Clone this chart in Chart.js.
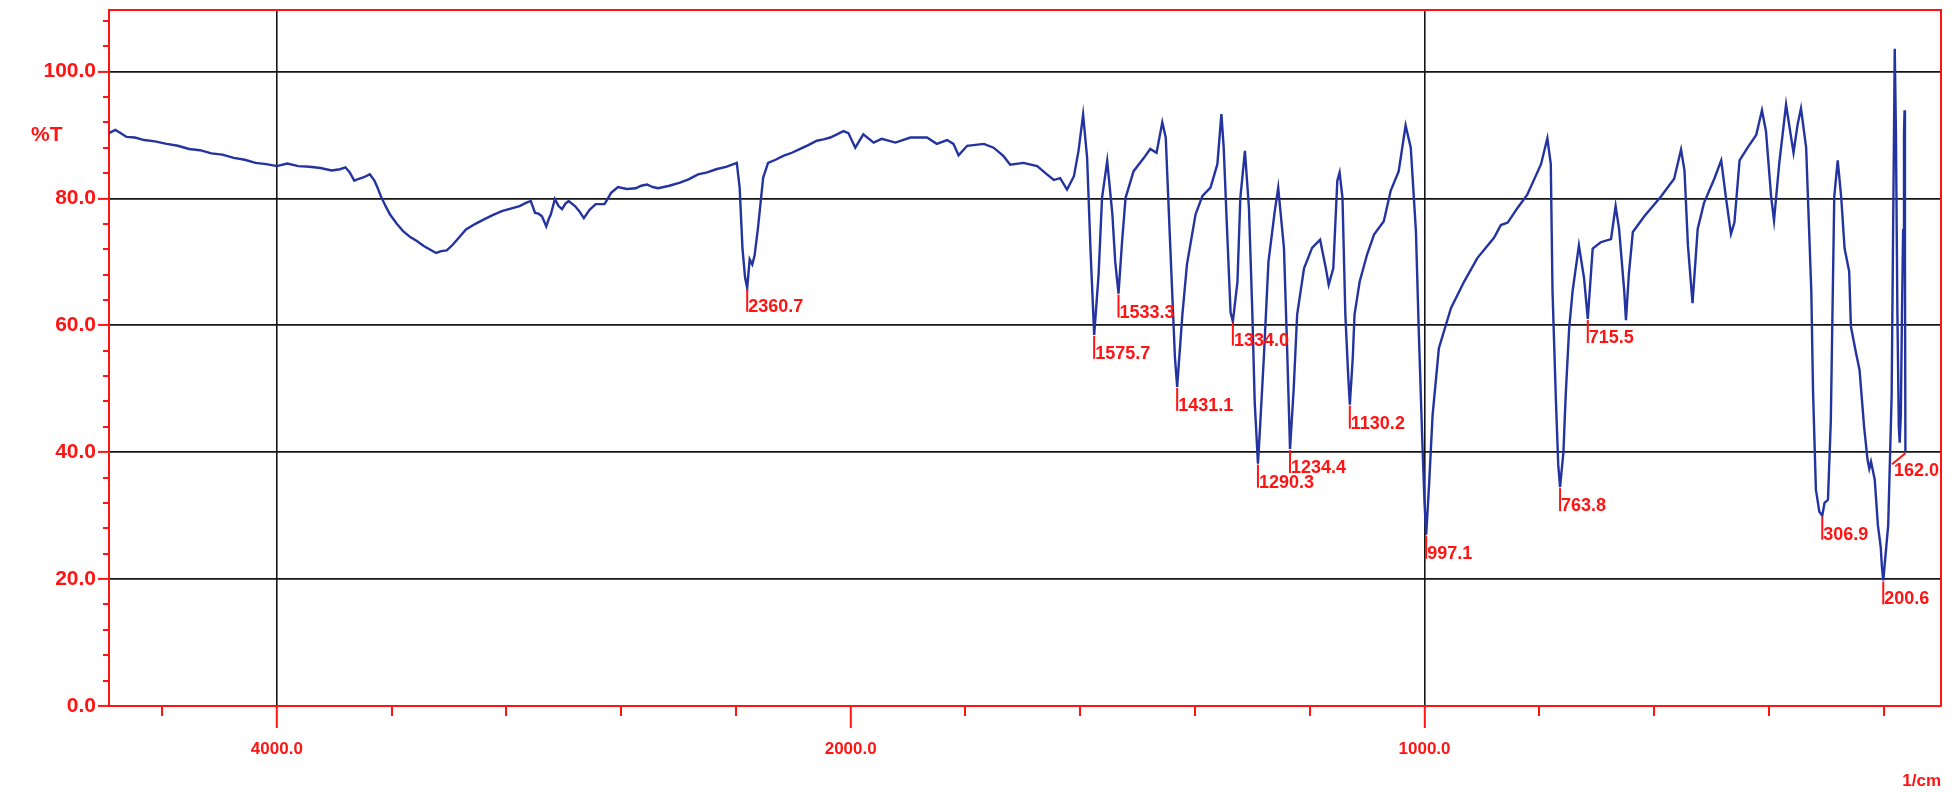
<!DOCTYPE html>
<html>
<head>
<meta charset="utf-8">
<script src="https://cdn.jsdelivr.net/npm/chart.js@4.4.1/dist/chart.umd.min.js"></script>
<style>
  html, body { margin: 0; padding: 0; background: #ffffff; }
  #wrap { width: 1958px; height: 792px; position: relative; background: #ffffff; }
  canvas { display: block; }
</style>
</head>
<body>
<div id="wrap"><canvas id="spectrum" width="1958" height="792"></canvas></div>
<script>
// IR transmittance spectrum (%T against wavenumber in 1/cm).
// Below 2000 1/cm the wavenumber axis is drawn at twice the scale of the upper part.

const wavenumbers = [
  4585, 4563, 4545, 4524, 4495, 4462, 4425, 4384, 4345, 4306, 4268, 4228, 4190, 4150, 4112, 4074, 4037, 4000,
  3964, 3925, 3886, 3848, 3809, 3780, 3761, 3746, 3730, 3714, 3699, 3676, 3660, 3650, 3638, 3620, 3606, 3582,
  3559, 3535, 3512, 3488, 3465, 3445, 3427, 3408, 3387, 3362, 3341, 3308, 3278, 3246, 3216, 3185, 3154, 3132,
  3115, 3100, 3088, 3076, 3061, 3052, 3045, 3031, 3018, 3006, 2994, 2983, 2961, 2946, 2930, 2910, 2889, 2858,
  2846, 2835, 2811, 2780, 2749, 2730, 2710, 2690, 2671, 2632, 2595, 2565, 2532, 2500, 2469, 2432, 2397, 2387,
  2377, 2368, 2360.7, 2352, 2343, 2335, 2323, 2305, 2288, 2262, 2235, 2205, 2176, 2148, 2118, 2095, 2071, 2048,
  2025, 2008,
  1992, 1978, 1960, 1946, 1922, 1896, 1867, 1850, 1832, 1821, 1812, 1797, 1768, 1751, 1734, 1722, 1699, 1675,
  1658, 1646, 1635, 1623, 1611, 1603, 1595, 1588, 1582, 1575.7, 1568, 1562, 1553, 1544, 1539, 1533.3, 1527, 1521,
  1507, 1489, 1478, 1467, 1457, 1451, 1443, 1435, 1431.1, 1422, 1414, 1399, 1387, 1373, 1361, 1354, 1350, 1344,
  1338, 1334.0, 1326, 1321, 1313, 1306, 1300, 1296, 1290.3, 1286, 1280, 1272, 1261, 1255, 1245, 1240, 1234.4, 1228,
  1222, 1210, 1196, 1182, 1172, 1167, 1159, 1152, 1148, 1143, 1138, 1133, 1130.2, 1125, 1122, 1113, 1100, 1088,
  1071, 1059, 1045, 1033, 1024, 1015, 1010, 1004, 1000, 997.1, 992, 986, 975, 954, 931, 908, 879, 867,
  855, 838, 821, 797, 786, 780, 777, 771, 767, 763.8, 758, 754, 748, 742, 731, 722, 715.5, 707,
  693, 675, 667, 661, 652, 649, 644, 637, 617, 588, 565, 553, 547, 541, 533, 524, 513, 495,
  483, 475, 466, 460, 451, 437, 422, 412, 405, 396, 391, 382, 370, 361, 357, 350, 344, 335,
  326, 323, 318, 312, 306.9, 303, 297, 292, 286, 280, 274, 268, 260, 257, 248, 242, 234, 228,
  225, 222, 215.5, 210, 205, 203, 200.6, 192, 186, 180.6, 178.5, 176, 173.5, 172, 170, 168, 166,
  164.5, 163.5, 162.8, 162.0
];

const transmittance = [
  90.3, 90.8, 90.3, 89.7, 89.6, 89.2, 89.0, 88.6, 88.3, 87.8, 87.6, 87.1, 86.9, 86.4, 86.1, 85.6, 85.4, 85.1,
  85.5, 85.1, 85.0, 84.8, 84.4, 84.6, 84.9, 84.1, 82.8, 83.1, 83.3, 83.8, 82.8, 81.8, 80.4, 78.7, 77.5, 76.0,
  74.8, 73.9, 73.3, 72.5, 71.9, 71.4, 71.7, 71.8, 72.7, 74.0, 75.1, 76.0, 76.7, 77.4, 78.0, 78.4, 78.8, 79.3,
  79.6, 77.7, 77.6, 77.2, 75.6, 76.8, 77.5, 79.9, 78.8, 78.3, 79.2, 79.6, 78.8, 78.0, 76.9, 78.2, 79.1, 79.1,
  80.0, 80.9, 81.8, 81.5, 81.6, 82.0, 82.2, 81.8, 81.6, 82.0, 82.5, 83.0, 83.8, 84.1, 84.6, 85.0, 85.6, 81.7,
  72.0, 67.5, 65.9, 70.4, 69.6, 71.0, 75.4, 83.3, 85.6, 86.1, 86.7, 87.2, 87.8, 88.4, 89.1, 89.3, 89.6, 90.1,
  90.6, 90.3,
  88.0, 90.1, 88.8, 89.4, 88.8, 89.6, 89.6, 88.6, 89.2, 88.6, 86.8, 88.3, 88.6, 88.0, 86.7, 85.3, 85.6, 85.1,
  83.8, 82.9, 83.2, 81.4, 83.5, 87.5, 93.2, 86.4, 71.7, 58.5, 68.0, 80.1, 85.9, 77.5, 70.0, 65.0, 73.3, 80.1,
  84.3, 86.4, 87.8, 87.2, 92.0, 89.6, 72.2, 55.0, 50.3, 61.7, 69.6, 77.5, 80.4, 81.7, 85.4, 93.3, 88.0, 74.8,
  62.0, 60.6, 66.9, 80.1, 87.5, 78.5, 61.7, 48.0, 38.2, 45.0, 55.0, 70.0, 78.0, 81.7, 72.2, 58.0, 40.5, 50.0,
  61.7, 69.0, 72.2, 73.5, 69.0, 66.4, 69.0, 82.8, 84.1, 80.1, 61.7, 52.0, 47.5, 55.0, 61.7, 66.9, 71.2, 74.3,
  76.4, 81.2, 84.3, 91.5, 88.0, 74.8, 59.0, 42.0, 32.0, 27.0, 35.0, 45.8, 56.4, 62.7, 66.9, 70.6, 73.8, 75.8,
  76.2, 78.5, 80.6, 85.4, 89.5, 85.4, 65.4, 48.0, 38.0, 34.5, 40.0, 49.0, 59.5, 65.4, 72.6, 67.4, 61.0, 72.1,
  73.1, 73.6, 78.8, 75.2, 65.4, 60.8, 68.0, 74.7, 77.2, 80.3, 83.1, 87.7, 84.4, 72.6, 63.5, 75.2, 79.3, 83.1,
  86.0, 80.3, 74.4, 76.2, 86.0, 88.0, 90.0, 93.9, 90.6, 80.3, 76.5, 85.4, 94.8, 89.5, 87.2, 91.6, 94.2, 88.0,
  65.4, 49.6, 34.1, 30.6, 30.0, 32.0, 32.5, 45.0, 80.3, 86.0, 80.3, 72.1, 68.5, 59.8, 55.6, 53.0, 44.0, 38.8,
  37.4, 38.5, 35.7, 28.5, 25.0, 22.0, 19.8, 28.5, 49.0, 103.6, 90.0, 62.0, 44.0, 41.5, 46.0, 62.0, 75.0,
  90.0, 93.9, 70.0, 40.0
];

// Picked band minima and their printed wavenumbers
const peakWavenumbers = [2360.7, 1575.7, 1533.3, 1431.1, 1334.0, 1290.3, 1234.4, 1130.2, 997.1, 763.8, 715.5, 306.9, 200.6, 162.0];
const peakLabels = ['2360.7', '1575.7', '1533.3', '1431.1', '1334.0', '1290.3', '1234.4', '1130.2', '997.1', '763.8', '715.5', '306.9', '200.6', '162.0'];

// Axis ranges and tick values
const xRange = [100, 4585];
const xLabelledTicks = [4000, 2000, 1000];
const xUnlabelledTicks = [4400, 3600, 3200, 2800, 2400, 1800, 1600, 1400, 1200, 800, 600, 400, 200];
const yRange = [0, 109.7];
const yLabelledTicks = [0, 20, 40, 60, 80, 100];
const yUnlabelledTicks = [4, 8, 12, 16, 24, 28, 32, 36, 44, 48, 52, 56, 64, 68, 72, 76, 84, 88, 92, 96, 104, 108];
const yUnitTick = 90;
const yUnitText = '%T';
const xUnitText = '1/cm';

const RED = '#ff1414';
const GRID = '#161616';
const TRACE = '#23339f';
const FONT_FAMILY = '"Liberation Sans", Arial, sans-serif';

// Wavenumber scale: linear below SPLIT_AT, compressed by UPPER_COMPRESSION above it
const SPLIT_AT = 2000;
const UPPER_COMPRESSION = 2;

class SplitWavenumberScale extends Chart.LinearScale {
  static id = 'splitWavenumber';
  static defaults = Chart.LinearScale.defaults;

  warp(v) {
    return v <= SPLIT_AT ? v : SPLIT_AT + (v - SPLIT_AT) / UPPER_COMPRESSION;
  }
  unwarp(w) {
    return w <= SPLIT_AT ? w : SPLIT_AT + (w - SPLIT_AT) * UPPER_COMPRESSION;
  }
  getPixelForValue(value) {
    if (value === null || value === undefined || isNaN(value)) return NaN;
    const lo = this.warp(this.min);
    const hi = this.warp(this.max);
    return this.getPixelForDecimal((this.warp(value) - lo) / (hi - lo));
  }
  getValueForPixel(pixel) {
    const lo = this.warp(this.min);
    const hi = this.warp(this.max);
    return this.unwarp(lo + this.getDecimalForPixel(pixel) * (hi - lo));
  }
}
Chart.register(SplitWavenumberScale);

const points = wavenumbers.map((w, i) => ({ x: w, y: transmittance[i] }));

// Red frame on the top and right of the plot area, and the wavenumber unit
const framePlugin = {
  id: 'frame',
  afterDraw(chart) {
    const { ctx, chartArea: a } = chart;
    ctx.save();
    ctx.strokeStyle = RED;
    ctx.lineWidth = 2;
    ctx.beginPath();
    ctx.moveTo(a.left, a.top);
    ctx.lineTo(a.right, a.top);
    ctx.lineTo(a.right, a.bottom);
    ctx.stroke();
    ctx.fillStyle = RED;
    ctx.font = 'bold 17px ' + FONT_FAMILY;
    ctx.textAlign = 'right';
    ctx.textBaseline = 'middle';
    ctx.fillText(xUnitText, a.right, 781);
    ctx.restore();
  }
};

// Short unlabelled tick marks on both axes
const minorTickPlugin = {
  id: 'minorTicks',
  afterDraw(chart) {
    const { ctx, chartArea: a, scales } = chart;
    ctx.save();
    ctx.strokeStyle = RED;
    ctx.lineWidth = 2;
    ctx.beginPath();
    xUnlabelledTicks.forEach(v => {
      const x = Math.round(scales.x.getPixelForValue(v));
      ctx.moveTo(x, a.bottom);
      ctx.lineTo(x, a.bottom + 10);
    });
    yUnlabelledTicks.forEach(v => {
      const y = Math.round(scales.y.getPixelForValue(v));
      ctx.moveTo(a.left - 6, y);
      ctx.lineTo(a.left, y);
    });
    ctx.stroke();
    ctx.restore();
  }
};

// Wavenumber labels under the picked band minima
const peakLabelPlugin = {
  id: 'peakLabels',
  afterDatasetsDraw(chart) {
    const { ctx, chartArea: a, scales } = chart;
    ctx.save();
    ctx.font = 'bold 18px ' + FONT_FAMILY;
    ctx.fillStyle = RED;
    ctx.strokeStyle = RED;
    ctx.lineWidth = 2;
    ctx.textBaseline = 'alphabetic';
    ctx.textAlign = 'left';
    peakWavenumbers.forEach((w, i) => {
      const idx = wavenumbers.indexOf(w);
      const px = scales.x.getPixelForValue(w);
      const py = scales.y.getPixelForValue(transmittance[idx]);
      const text = peakLabels[i];
      const tw = ctx.measureText(text).width;
      let tx = px + 1;
      ctx.beginPath();
      if (tx + tw > a.right - 2) {
        // no room on the right: slanted leader, text pulled back inside the frame
        tx = a.right - 2 - tw;
        ctx.moveTo(px, py + 1);
        ctx.lineTo(tx - 2, py + 12);
      } else {
        ctx.moveTo(px, py + 1);
        ctx.lineTo(px, py + 24);
      }
      ctx.stroke();
      ctx.fillText(text, tx, py + 24);
    });
    ctx.restore();
  }
};

const chart = new Chart(document.getElementById('spectrum'), {
  type: 'line',
  data: {
    datasets: [{
      data: points,
      borderColor: TRACE,
      borderWidth: 2.4,
      pointRadius: 0,
      tension: 0,
      fill: false
    }]
  },
  options: {
    responsive: false,
    devicePixelRatio: 1,
    animation: false,
    events: [],
    layout: { padding: { left: 0, right: 17, top: 10, bottom: 0 } },
    plugins: {
      legend: { display: false },
      tooltip: { enabled: false },
      title: { display: false }
    },
    scales: {
      x: {
        type: 'splitWavenumber',
        reverse: true,
        min: xRange[0],
        max: xRange[1],
        afterBuildTicks(scale) {
          scale.ticks = xLabelledTicks.map(v => ({ value: v }));
        },
        afterFit(scale) {
          scale.height = 86;
          scale.paddingLeft = 0;
          scale.paddingRight = 0;
        },
        ticks: {
          autoSkip: false,
          maxRotation: 0,
          padding: 11,
          color: RED,
          font: { family: FONT_FAMILY, size: 17, weight: 'bold' },
          callback: v => Number(v).toFixed(1)
        },
        grid: {
          color: ctx => (ctx.tick && ctx.tick.value === SPLIT_AT) ? 'rgba(0,0,0,0)' : GRID,
          lineWidth: 1.6,
          tickColor: RED,
          tickWidth: 2,
          tickLength: 22
        },
        border: { color: RED, width: 2 }
      },
      y: {
        type: 'linear',
        min: yRange[0],
        max: yRange[1],
        afterBuildTicks(scale) {
          scale.ticks = yLabelledTicks.concat([yUnitTick]).sort((p, q) => p - q).map(v => ({ value: v }));
        },
        afterFit(scale) {
          scale.width = 109;
          scale.paddingTop = 0;
          scale.paddingBottom = 0;
        },
        ticks: {
          autoSkip: false,
          padding: 2,
          color: RED,
          font: { family: FONT_FAMILY, size: 21, weight: 'bold' },
          callback: v => (v === yUnitTick ? yUnitText + '     \u2009' : Number(v).toFixed(1))
        },
        grid: {
          color: ctx => (ctx.tick && (ctx.tick.value === yUnitTick || ctx.tick.value === 0)) ? 'rgba(0,0,0,0)' : GRID,
          lineWidth: 1.8,
          tickColor: ctx => (ctx.tick && ctx.tick.value === yUnitTick) ? 'rgba(0,0,0,0)' : RED,
          tickWidth: 2,
          tickLength: 11
        },
        border: { color: RED, width: 2 }
      }
    }
  },
  plugins: [framePlugin, minorTickPlugin, peakLabelPlugin]
});
</script>
</body>
</html>
